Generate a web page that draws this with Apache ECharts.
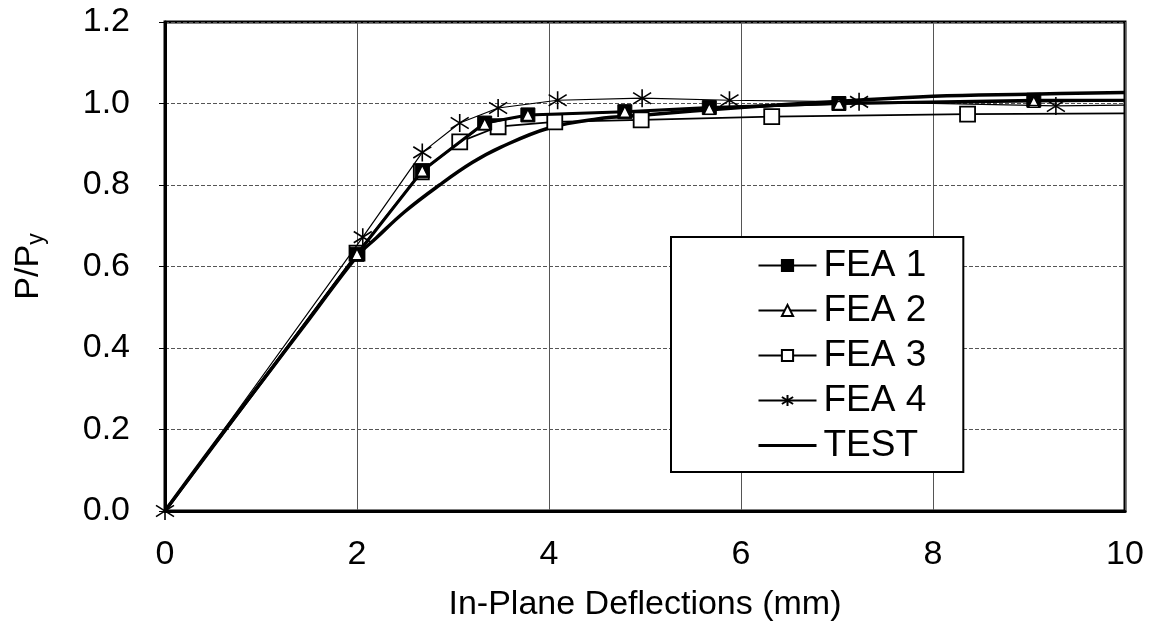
<!DOCTYPE html>
<html>
<head>
<meta charset="utf-8">
<script src="https://cdn.jsdelivr.net/npm/echarts@6/dist/echarts.min.js"></script>
<style>html,body{margin:0;padding:0;background:#fff}#c{width:1160px;height:633px}</style>
</head>
<body>
<div id="c"></div>
<script>
// ---- data ----
const xTicks = [0, 2, 4, 6, 8, 10];
const yTicks = [0.0, 0.2, 0.4, 0.6, 0.8, 1.0, 1.2];

const fea1X = [0, 2.0, 2.68, 3.33, 3.78, 4.79, 5.67, 7.02, 9.05, 10];
const fea1Y = [0, 0.63, 0.835, 0.952, 0.972, 0.98, 0.99, 1.0, 1.008, 1.008];

const fea2X = [0, 2.0, 2.68, 3.33, 3.78, 4.79, 5.67, 7.02, 9.05, 10];
const fea2Y = [0, 0.63, 0.835, 0.95, 0.972, 0.98, 0.987, 0.999, 1.004, 1.006];

const fea3X = [0, 2.0, 2.67, 3.07, 3.47, 4.06, 4.96, 6.32, 8.36, 10];
const fea3Y = [0, 0.633, 0.832, 0.906, 0.943, 0.955, 0.96, 0.968, 0.974, 0.976];

const fea4X = [0, 2.06, 2.68, 3.07, 3.47, 4.09, 4.97, 5.88, 7.23, 9.28, 10];
const fea4Y = [0, 0.672, 0.88, 0.952, 0.989, 1.008, 1.013, 1.008, 1.004, 0.994, 0.996];

const testX = [0, 0.5, 1.0, 1.5, 2.0, 2.2, 2.5, 2.86, 3.2, 3.5, 4.0, 4.5, 5.0, 6.0, 7.0, 8.0, 9.0, 10];
const testY = [0, 0.16, 0.315, 0.47, 0.625, 0.67, 0.735, 0.80, 0.855, 0.893, 0.94, 0.962, 0.972, 0.99, 1.005, 1.018, 1.023, 1.027];

const legendNames = ['FEA 1', 'FEA 2', 'FEA 3', 'FEA 4', 'TEST'];

// points; the end point at the right border and the shared origin carry no marker (except FEA 4's star)
function pairs(xs, ys, keepOrigin) {
  return xs.map((x, i) => (x >= 10 || (x === 0 && !keepOrigin)) ? {value: [x, ys[i]], symbol: 'none'} : [x, ys[i]]);
}

const FONT = 'Liberation Sans, Arial, sans-serif';
const STAR = 'path://M8 0 L8 16 M0 3 L16 13 M0 13 L16 3';

const chart = echarts.init(document.getElementById('c'), null, {renderer: 'canvas'});
chart.setOption({
  animation: false,
  backgroundColor: '#fff',
  grid: {left: 165, right: 35, top: 22, bottom: 122, show: true, borderColor: '#000', borderWidth: 3, backgroundColor: 'transparent'},
  xAxis: {
    type: 'value', min: 0, max: 10, interval: 2,
    name: 'In-Plane Deflections (mm)', nameLocation: 'middle', nameGap: 77,
    nameTextStyle: {fontFamily: FONT, fontSize: 34, color: '#000'},
    axisLine: {show: true, lineStyle: {color: '#000', width: 3}},
    axisTick: {show: false},
    axisLabel: {fontFamily: FONT, fontSize: 34, color: '#000', margin: 27,
      formatter: v => xTicks.includes(v) ? String(v) : ''},
    splitLine: {show: true, lineStyle: {color: '#555', width: 1}}
  },
  yAxis: {
    type: 'value', min: 0, max: 1.2, interval: 0.2,
    name: '{a|P/P}{b|y}', nameLocation: 'middle', nameGap: 117, nameRotate: 90,
    nameTextStyle: {fontFamily: FONT, fontSize: 34, color: '#000',
      rich: {a: {fontFamily: FONT, fontSize: 34, color: '#000'},
             b: {fontFamily: FONT, fontSize: 23, color: '#000', padding: [15, 0, 0, 0]}}},
    axisLine: {show: true, lineStyle: {color: '#000', width: 3}},
    axisTick: {show: true, length: 6, inside: false, lineStyle: {color: '#000', width: 1}},
    axisLabel: {fontFamily: FONT, fontSize: 34, color: '#000', margin: 35,
      formatter: v => { const t = yTicks.find(k => Math.abs(k - v) < 1e-6); return t === undefined ? '' : t.toFixed(1); }},
    splitLine: {show: true, lineStyle: {color: '#555', width: 1, type: [4, 2]}}
  },
  legend: {
    data: legendNames.map(n => n === 'TEST' ? {name: n, itemStyle: {opacity: 0}, lineStyle: {width: 3}} : n),
    orient: 'vertical', left: 671, top: 237,
    padding: [10, 37, 8, 86],
    itemWidth: 58, itemHeight: 14, itemGap: 8,
    backgroundColor: '#fff', borderColor: '#000', borderWidth: 2,
    textStyle: {fontFamily: FONT, fontSize: 37, color: '#000', padding: [0, 0, 0, 2]}
  },
  series: [
    {name: 'TEST', type: 'line', data: pairs(testX, testY, false), smooth: 0.4, symbol: 'none',
      lineStyle: {color: '#000', width: 3.5}, itemStyle: {color: '#000'}, z: 2},
    {name: 'FEA 3', type: 'line', data: pairs(fea3X, fea3Y, false), symbol: 'rect', symbolSize: 15,
      lineStyle: {color: '#000', width: 1.8}, itemStyle: {color: '#fff', borderColor: '#000', borderWidth: 1.8}, z: 3},
    {name: 'FEA 1', type: 'line', data: pairs(fea1X, fea1Y, false), symbol: 'rect', symbolSize: 14,
      lineStyle: {color: '#000', width: 3}, itemStyle: {color: '#000', borderColor: '#000', borderWidth: 1}, z: 5},
    {name: 'FEA 2', type: 'line', data: pairs(fea2X, fea2Y, false), symbol: 'triangle', symbolSize: 11,
      lineStyle: {color: '#000', width: 1.5}, itemStyle: {color: '#fff', borderColor: '#000', borderWidth: 1.5}, z: 6},
    {name: 'FEA 4', type: 'line', data: pairs(fea4X, fea4Y, true), symbol: STAR, symbolSize: 18,
      lineStyle: {color: '#000', width: 1.2}, itemStyle: {color: '#000', borderColor: '#000', borderWidth: 1.6}, z: 7}
  ]
});
</script>
</body>
</html>
